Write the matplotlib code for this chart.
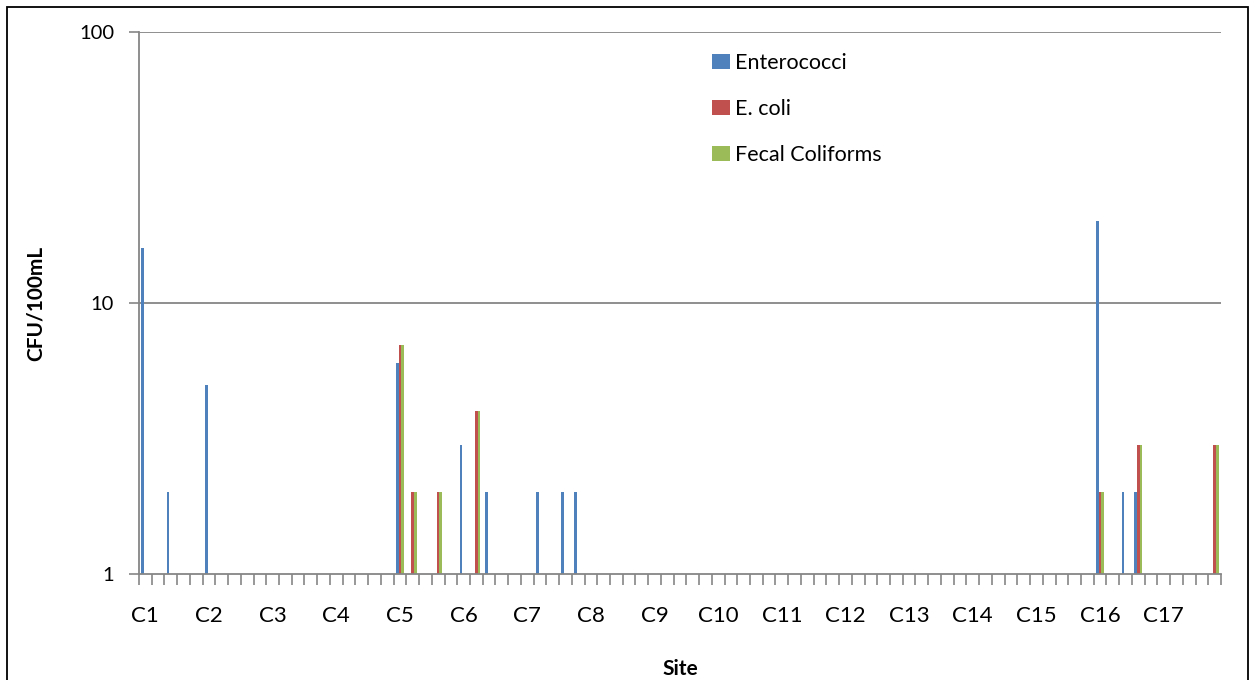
import numpy as np
import matplotlib
matplotlib.use("Agg")
import matplotlib.pyplot as plt
from matplotlib.patches import Patch, Rectangle
from matplotlib.ticker import FixedLocator, NullLocator

plt.rcParams["font.family"] = ["Lato", "DejaVu Sans"]

# Five samples per site, C1..C17 (85 samples). Value 1 = nothing drawn on log axis
sites = ["C%d" % i for i in range(1, 18)]
per_site = 5

enterococci = [
    16, 1, 2, 1, 1,   # C1
    5, 1, 1, 1, 1,    # C2
    1, 1, 1, 1, 1,    # C3
    1, 1, 1, 1, 1,    # C4
    6, 1, 1, 1, 1,    # C5
    3, 1, 2, 1, 1,    # C6
    1, 2, 1, 2, 2,    # C7
    1, 1, 1, 1, 1,    # C8
    1, 1, 1, 1, 1,    # C9
    1, 1, 1, 1, 1,    # C10
    1, 1, 1, 1, 1,    # C11
    1, 1, 1, 1, 1,    # C12
    1, 1, 1, 1, 1,    # C13
    1, 1, 1, 1, 1,    # C14
    1, 1, 1, 1, 1,    # C15
    20, 1, 2, 2, 1,   # C16
    1, 1, 1, 1, 1,    # C17
]
e_coli = [
    1, 1, 1, 1, 1,
    1, 1, 1, 1, 1,
    1, 1, 1, 1, 1,
    1, 1, 1, 1, 1,
    7, 2, 1, 2, 1,    # C5
    1, 4, 1, 1, 1,    # C6
    1, 1, 1, 1, 1,
    1, 1, 1, 1, 1,
    1, 1, 1, 1, 1,
    1, 1, 1, 1, 1,
    1, 1, 1, 1, 1,
    1, 1, 1, 1, 1,
    1, 1, 1, 1, 1,
    1, 1, 1, 1, 1,
    1, 1, 1, 1, 1,
    2, 1, 1, 3, 1,    # C16
    1, 1, 1, 1, 3,    # C17
]
fecal_coliforms = list(e_coli)

series = [
    ("Enterococci", enterococci, "#4F81BD"),
    ("E. coli", e_coli, "#C0504D"),
    ("Fecal Coliforms", fecal_coliforms, "#9BBB59"),
]

W, H = 1255, 680
fig = plt.figure(figsize=(W / 100, H / 100), dpi=100)
ax = fig.add_axes([139 / W, 1 - 574 / H, 1082 / W, 542 / H])

n = len(enterococci)
x = np.arange(n) + 0.5
bw = 0.21
for k, (name, vals, col) in enumerate(series):
    v = np.array(vals, dtype=float)
    ax.bar(x + (k - 1) * bw, v - 1, bottom=1, width=bw, color=col, linewidth=0)

ax.set_yscale("log")
ax.set_ylim(1, 100)
ax.set_xlim(0, n)
ax.yaxis.set_major_locator(FixedLocator([1, 10, 100]))
ax.yaxis.set_minor_locator(NullLocator())
ax.set_yticklabels(["1", "10", "100"])

grey = "#868686"
for yv in [10, 100]:
    ax.axhline(yv, color=grey, lw=1.3, zorder=0)

# tick marks at every sample boundary, labels at the first sample of each site
ax.xaxis.set_major_locator(FixedLocator(np.arange(n + 1)))
ax.set_xticklabels([])
ax.tick_params(axis="x", which="major", length=8, width=1.2, color=grey, direction="out")
ax.xaxis.set_minor_locator(FixedLocator(np.arange(0, n, per_site) + 0.5))
ax.set_xticklabels(sites, minor=True)
ax.tick_params(axis="x", which="minor", length=0, pad=23, labelsize=16)
ax.tick_params(axis="y", length=7, width=1.2, color=grey, pad=11, labelsize=14.5)

for s in ["top", "right"]:
    ax.spines[s].set_visible(False)
for s in ["left", "bottom"]:
    ax.spines[s].set_color(grey)
    ax.spines[s].set_linewidth(1.3)

ax.set_ylabel("CFU/100mL", fontweight="bold", fontsize=15, labelpad=24)
ax.set_xlabel("Site", fontweight="bold", fontsize=15, labelpad=24)

handles = [Patch(facecolor=c, label=nm) for nm, _, c in series]
ax.legend(handles=handles, loc="upper left", bbox_to_anchor=(0.512, 0.997),
          frameon=False, fontsize=15.5, handlelength=0.8, handleheight=0.7,
          handletextpad=0.25, labelspacing=1.2)

fig.patches.append(Rectangle((7 / W, -0.02), 1241 / W, 1 - 7 / H + 0.02,
                             transform=fig.transFigure, fill=False,
                             edgecolor="black", lw=1.3))

fig.savefig("out.png", dpi=100)
